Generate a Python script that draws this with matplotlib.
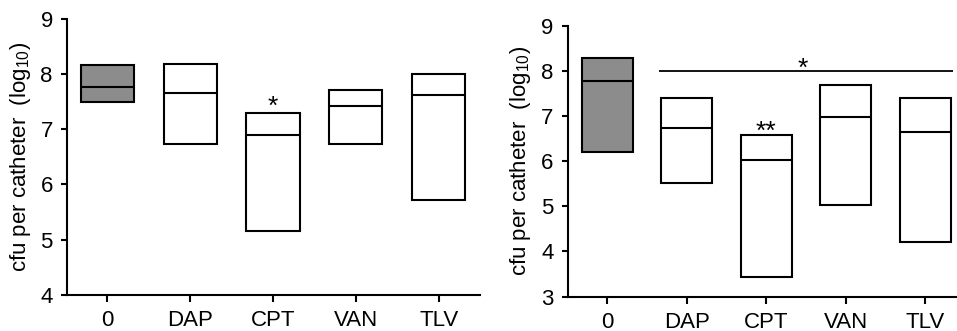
import matplotlib
matplotlib.use("Agg")
import matplotlib.pyplot as plt
import numpy as np

plt.rcParams["font.family"] = ["Liberation Sans", "DejaVu Sans"]
plt.rcParams["mathtext.fontset"] = "custom"
plt.rcParams["mathtext.rm"] = "Liberation Sans"

# ── data ────────────────────────────────────────────────
groups = ["0", "DAP", "CPT", "VAN", "TLV"]

left_top = [8.17, 8.18, 7.29, 7.71, 8.00]
left_median = [7.77, 7.65, 6.90, 7.42, 7.62]
left_bottom = [7.50, 6.73, 5.16, 6.73, 5.72]

right_top = [8.29, 7.40, 6.59, 7.69, 7.40]
right_median = [7.77, 6.74, 6.02, 6.98, 6.65]
right_bottom = [6.20, 5.52, 3.44, 5.03, 4.22]

box_fill = ["#8c8c8c", "white", "white", "white", "white"]

YLABEL = r"cfu per catheter  (log$_{\mathregular{10}}$)"
BOX_W = 0.64
LW = 1.5
FS = 16
STAR_FS = 19


def draw_panel(ax, top, med, bot, ylim):
    x = np.arange(len(groups))
    heights = np.array(top) - np.array(bot)
    ax.bar(x, heights, bottom=bot, width=BOX_W, color=box_fill,
           edgecolor="black", linewidth=LW, zorder=2)
    ax.hlines(med, x - BOX_W / 2, x + BOX_W / 2, color="black",
              linewidth=LW, zorder=3)
    ax.set_xticks(x)
    ax.set_xticklabels(groups, fontsize=FS)
    ax.set_ylim(*ylim)
    ax.set_yticks(range(ylim[0], ylim[1] + 1))
    ax.tick_params(axis="y", labelsize=FS, width=LW, length=4, pad=6)
    ax.tick_params(axis="x", width=LW, length=5, pad=6)
    for s in ("top", "right"):
        ax.spines[s].set_visible(False)
    for s in ("left", "bottom"):
        ax.spines[s].set_linewidth(LW)
    ax.set_ylabel(YLABEL, fontsize=FS)


def star(ax, x, yc, s):
    # place the glyph so its ink centre sits at yc
    ax.annotate(s, xy=(x, yc), xytext=(0, -0.58 * STAR_FS),
                textcoords="offset points", ha="center", va="baseline",
                fontsize=STAR_FS)


fig = plt.figure(figsize=(9.57, 3.31), dpi=100)
fig.patch.set_facecolor("white")

ax1 = fig.add_axes([0.0697, 0.109, 0.432, 0.834])
ax2 = fig.add_axes([0.593, 0.104, 0.407, 0.818])

draw_panel(ax1, left_top, left_median, left_bottom, (4, 9))
ax1.set_xlim(-0.49, 4.5)
star(ax1, 2, 7.55, "*")
ax1.yaxis.set_label_coords(-0.082, 0.5)

draw_panel(ax2, right_top, right_median, right_bottom, (3, 9))
ax2.set_xlim(-0.5, 4.4)
ax2.hlines(8.0, 0.65, 4.35, color="black", linewidth=1.3)
star(ax2, 2.46, 8.24, "*")
star(ax2, 2, 6.84, "**")
ax2.yaxis.set_label_coords(-0.089, 0.5)

plt.savefig("out.png", dpi=100, facecolor=fig.get_facecolor())
